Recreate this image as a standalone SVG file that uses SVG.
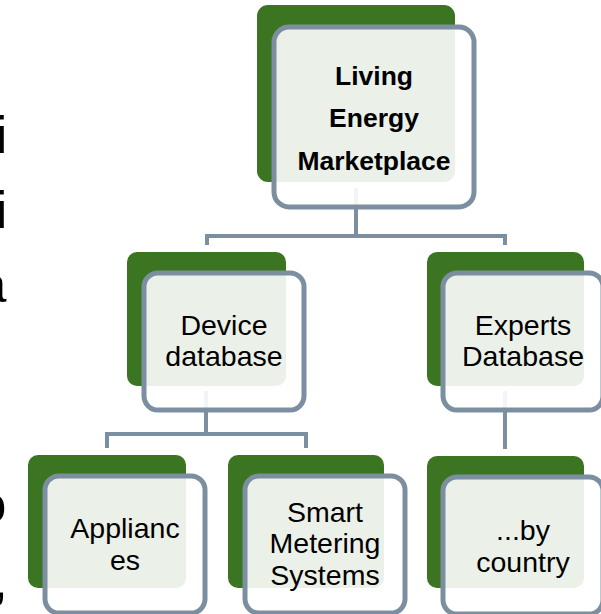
<svg xmlns="http://www.w3.org/2000/svg" width="601" height="614" viewBox="0 0 601 614">
  <style>
    .back { fill: #3b7521; }
    .front { fill: #ffffff; fill-opacity: 0.9; stroke: #7b8fa1; stroke-width: 5; }
    .link { fill: none; stroke: #7b8fa1; stroke-width: 4; }
    .lbl { font-family: "Liberation Sans", Arial, sans-serif; font-size: 28.5px; fill: #000000; text-anchor: middle; }
    .lbl-b { font-family: "Liberation Sans", Arial, sans-serif; font-size: 26.5px; font-weight: bold; fill: #000000; text-anchor: middle; }
    .edge { font-family: "Liberation Sans", Arial, sans-serif; font-size: 52px; fill: #000000; text-anchor: end; }
  </style>

  <!-- clipped slide text at the left margin -->
  <g id="margin-text">
    <text class="edge" x="7.3" y="153">i</text>
    <text class="edge" x="7.3" y="228">i</text>
    <text class="edge" x="6.4" y="302">a</text>
    <text class="edge" x="6.4" y="522">o</text>
    <text class="edge" x="7.6" y="598">,</text>
  </g>

  <!-- tree connectors -->
  <g id="connectors">
    <path class="link" d="M356 188 V236 M207 236 H505 M207 234 V245 M505 234 V245"/>
    <path class="link" d="M206 391 V434 M107 434 H306 M107 432 V448 M306 432 V448"/>
    <path class="link" d="M505 391 V449"/>
  </g>

  <g id="node-living-energy">
    <rect class="back" x="257" y="5" width="198" height="177" rx="11"/>
    <rect class="front" x="274" y="27" width="200" height="180" rx="15"/>
    <text class="lbl-b" x="374" y="85">Living</text>
    <text class="lbl-b" x="374" y="127">Energy</text>
    <text class="lbl-b" x="374" y="170">Marketplace</text>
  </g>

  <g id="node-device-db">
    <rect class="back" x="127" y="252" width="159" height="134" rx="10"/>
    <rect class="front" x="144" y="273" width="160" height="137" rx="14"/>
    <text class="lbl" x="224" y="335">Device</text>
    <text class="lbl" x="224" y="366">database</text>
  </g>

  <g id="node-experts-db">
    <rect class="back" x="427" y="252" width="157" height="134" rx="10"/>
    <rect class="front" x="443" y="273" width="160" height="137" rx="14"/>
    <text class="lbl" x="523" y="335">Experts</text>
    <text class="lbl" x="523" y="366">Database</text>
  </g>

  <g id="node-appliances">
    <rect class="back" x="28" y="455" width="158" height="133" rx="10"/>
    <rect class="front" x="45" y="476" width="160" height="137" rx="14"/>
    <text class="lbl" x="125" y="538">Applianc</text>
    <text class="lbl" x="125" y="570">es</text>
  </g>

  <g id="node-smart-metering">
    <rect class="back" x="228" y="455" width="156" height="133" rx="10"/>
    <rect class="front" x="245" y="476" width="160" height="137" rx="14"/>
    <text class="lbl" x="325" y="522">Smart</text>
    <text class="lbl" x="325" y="553">Metering</text>
    <text class="lbl" x="325" y="585">Systems</text>
  </g>

  <g id="node-by-country">
    <rect class="back" x="427" y="456" width="157" height="132" rx="10"/>
    <rect class="front" x="443" y="477" width="160" height="137" rx="14"/>
    <text class="lbl" x="523" y="540">...by</text>
    <text class="lbl" x="523" y="572">country</text>
  </g>
</svg>
